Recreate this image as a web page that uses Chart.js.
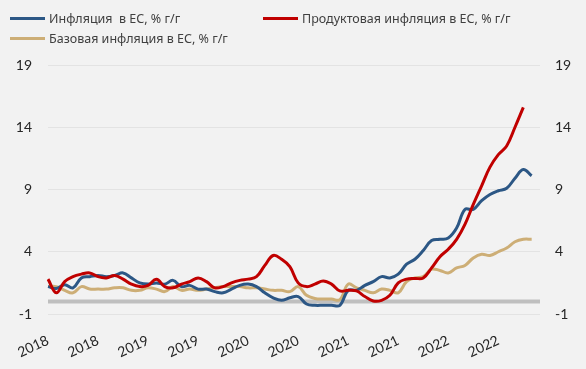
<!DOCTYPE html>
<html>
<head>
<meta charset="utf-8">
<script src="https://cdn.jsdelivr.net/npm/chart.js@4.4.1/dist/chart.umd.min.js"></script>
<style>
    html, body { margin:0; padding:0; background:#f2f2f2; }
    #wrap { position:relative; width:586px; height:369px; }
    #legend { position:absolute; left:0; top:0; width:586px; height:50px; font:12.5px "Noto Sans", sans-serif; color:#404040; }
    .item { position:absolute; display:flex; align-items:center; white-space:pre; height:16px; }
    .item i { display:inline-block; width:35px; height:3px; margin-right:4px; }
</style>
</head>
<body>
<div id="wrap">
    <canvas id="chart" width="586" height="369"></canvas>
    <div id="legend"></div>
</div>
<script>
// ---------- данные ----------
const months = [
    '01.2018','02.2018','03.2018','04.2018','05.2018','06.2018','07.2018','08.2018','09.2018','10.2018','11.2018','12.2018',
    '01.2019','02.2019','03.2019','04.2019','05.2019','06.2019','07.2019','08.2019','09.2019','10.2019','11.2019','12.2019',
    '01.2020','02.2020','03.2020','04.2020','05.2020','06.2020','07.2020','08.2020','09.2020','10.2020','11.2020','12.2020',
    '01.2021','02.2021','03.2021','04.2021','05.2021','06.2021','07.2021','08.2021','09.2021','10.2021','11.2021','12.2021',
    '01.2022','02.2022','03.2022','04.2022','05.2022','06.2022','07.2022','08.2022','09.2022','10.2022','11.2022','12.2022'
];
const tickLabels = ['2018','2018','2019','2019','2020','2020','2021','2021','2022','2022'];

const inflation = [
    1.2, 1.05, 1.35, 1.1, 1.9, 2.0, 2.1, 2.0, 2.1, 2.3, 1.9, 1.5,
    1.4, 1.5, 1.4, 1.7, 1.2, 1.3, 1.0, 1.0, 0.8, 0.7, 1.0, 1.3,
    1.4, 1.2, 0.7, 0.3, 0.1, 0.3, 0.4, -0.2, -0.3, -0.3, -0.3, -0.3,
    0.9, 0.9, 1.3, 1.6, 2.0, 1.9, 2.2, 3.0, 3.4, 4.1, 4.9, 5.0,
    5.1, 5.9, 7.4, 7.4, 8.1, 8.6, 8.9, 9.1, 9.9, 10.6, 10.1
];
const foodInflation = [
    1.8, 0.7, 1.6, 2.0, 2.2, 2.3, 2.0, 1.9, 2.1, 1.8, 1.4, 1.2,
    1.3, 1.8, 1.2, 1.1, 1.4, 1.6, 1.9, 1.6, 1.1, 1.2, 1.5, 1.7,
    1.8, 2.0, 2.9, 3.7, 3.4, 2.8, 1.5, 1.2, 1.4, 1.65, 1.4, 0.85,
    0.9, 0.85, 0.4, 0.05, 0.1, 0.5, 1.5, 1.8, 1.85, 1.9, 2.7, 3.6,
    4.2, 5.0, 6.2, 7.8, 9.3, 10.8, 11.8, 12.5, 14.0, 15.6
];
const coreInflation = [
    1.2, 1.2, 0.9, 0.7, 1.2, 1.0, 1.0, 1.0, 1.1, 1.1, 0.9, 0.9,
    1.1, 1.0, 0.8, 1.2, 0.9, 1.0, 0.9, 1.0, 1.1, 1.2, 1.2, 1.2,
    1.1, 1.1, 1.0, 0.9, 0.9, 0.8, 1.2, 0.5, 0.25, 0.2, 0.2, 0.15,
    1.4, 1.1, 0.9, 0.7, 1.0, 0.9, 0.7, 1.6, 1.9, 2.0, 2.6, 2.5,
    2.3, 2.7, 2.9, 3.5, 3.8, 3.7, 4.0, 4.3, 4.8, 5.0, 5.0
];
const zeroLine = [{ x: '01.2018', y: 0 }, { x: '12.2022', y: 0 }];

const series = [
    { label: 'Инфляция  в ЕС, % г/г', data: inflation, color: '#2c5785', order: 2 },
    { label: 'Продуктовая инфляция в ЕС, % г/г', data: foodInflation, color: '#c00000', order: 1 },
    { label: 'Базовая инфляция в ЕС, % г/г', data: coreInflation, color: '#cdae76', order: 3 }
];

// ---------- легенда ----------
const legendPos = [{ left: 10, top: 10 }, { left: 263, top: 10 }, { left: 10, top: 30 }];
document.getElementById('legend').innerHTML = series.map((s, i) =>
    `<div class="item" style="left:${legendPos[i].left}px; top:${legendPos[i].top}px;"><i style="background:${s.color}"></i>${s.label}</div>`
).join('');

// ---------- график ----------
const tickFont = { family: 'Lato', size: 14 };
new Chart(document.getElementById('chart'), {
    type: 'line',
    data: {
        labels: months,
        datasets: series.map(s => ({
            label: s.label, data: s.data, borderColor: s.color, backgroundColor: s.color,
            borderWidth: 3, pointRadius: 0, tension: 0.4, order: s.order
        })).concat([{
            label: 'zero', data: zeroLine, borderColor: '#bfbfbf', borderWidth: 4, pointRadius: 0, order: 4
        }])
    },
    options: {
        responsive: false,
        animation: false,
        layout: { padding: { top: 65, left: 0, right: 0, bottom: 0 } },
        plugins: { legend: { display: false }, tooltip: { enabled: false } },
        scales: {
            x: {
                grid: { display: false },
                border: { display: false },
                ticks: {
                    autoSkip: false, minRotation: 25, maxRotation: 25, padding: 10,
                    color: '#262626', font: tickFont,
                    callback: (v, i) => i % 6 === 0 ? tickLabels[i / 6] : ''
                },
                afterFit: s => { s.height = 55; }
            },
            y: {
                position: 'left', min: -1, max: 19,
                ticks: { stepSize: 5, padding: 16, color: '#262626', font: tickFont },
                grid: { color: '#e3e3e3', drawTicks: false },
                border: { display: false },
                afterFit: s => { s.width = 48; }
            },
            y2: {
                position: 'right', min: -1, max: 19,
                ticks: { stepSize: 5, padding: 15, color: '#262626', font: tickFont },
                grid: { display: false, drawTicks: false },
                border: { display: false },
                afterFit: s => { s.width = 46; }
            }
        }
    }
});
</script>
</body>
</html>
